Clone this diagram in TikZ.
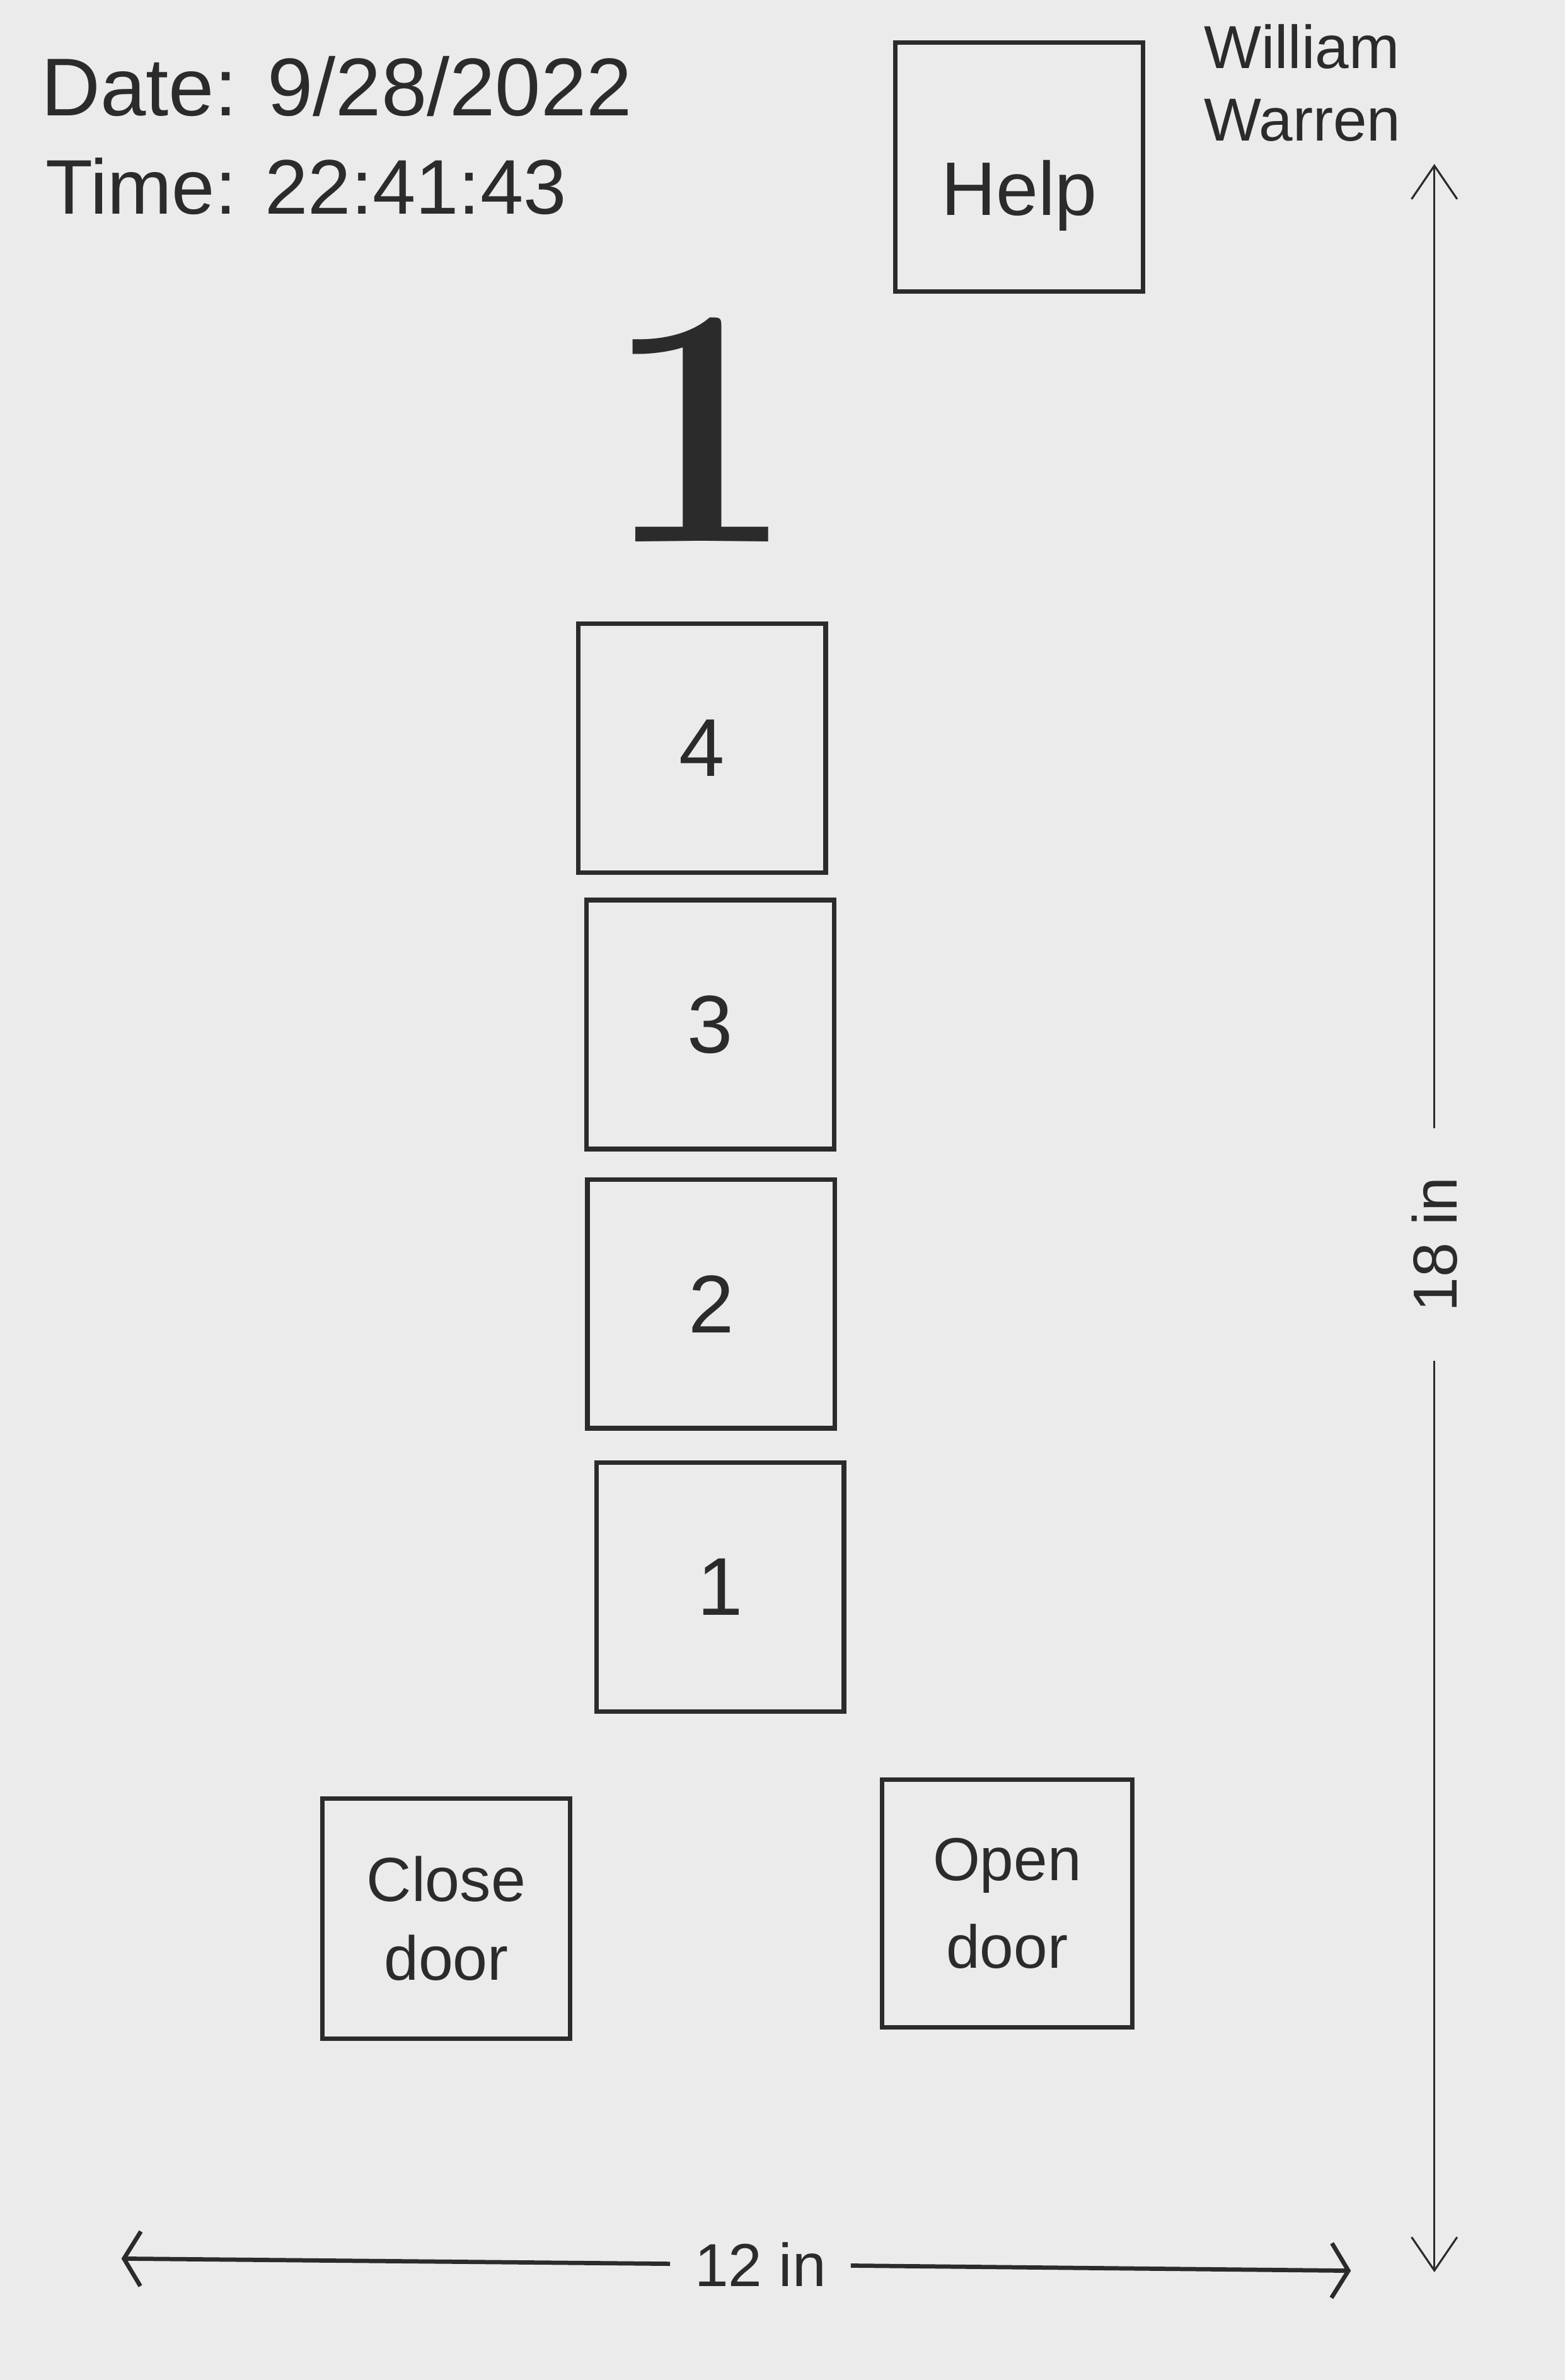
\documentclass[tikz,border=0pt]{standalone}
\usepackage{fontspec}
\newfontfamily\hand{Liberation Sans}
\usepackage{tikz}
\usetikzlibrary{arrows.meta}
\definecolor{paper}{HTML}{EBEBEB}
\definecolor{pen}{HTML}{2B2B2B}

\tikzset{
  btn/.style={draw=pen, line width=3pt, minimum width=163pt, minimum height=164pt,
    inner sep=0pt, text=pen, font=\hand\fontsize{54}{54}\selectfont},
  lbl/.style={text=pen, inner sep=0pt, font=\hand\fontsize{#1}{#1}\selectfont},
  vdim/.style={draw=pen, line width=1.3pt, -{Straight Barb[length=22pt,width=30pt]}},
  hdim/.style={draw=pen, line width=2.8pt, -{Straight Barb[length=11pt,width=36pt]}},
}

\begin{document}
\begin{tikzpicture}[x=1pt,y=-1pt]
  \fill[paper] (0,0) rectangle (1031,1568);
  \useasboundingbox (0,0) rectangle (1031,1568);

  % header
  \node[lbl=54, anchor=base west] (date) at (27,76) {Date: 9/28/2022};
  \node[lbl=51, anchor=base west] (time) at (30,141) {Time: 22:41:43};
  \node[lbl=40, anchor=base west] (first) at (793,45) {William};
  \node[lbl=40, anchor=base west] (last) at (793,93) {Warren};
  \node[btn, minimum height=164pt, font=\hand\fontsize{50}{50}\selectfont,
        text height=74pt, text depth=10pt] (help) at (671.5,110) {Help};

  % floor display
  \node[text=pen, inner sep=0pt, anchor=base, font=\fontsize{225}{225}\selectfont\bfseries]
    (floor) at (461,357) {1};

  % floor buttons
  \foreach \x/\y/\n in {462.5/493/4, 468/675/3, 468.5/859/2, 474.5/1045.5/1}
    \node[btn] (b\n) at (\x,\y) {\n};

  % door buttons
  \node[btn, minimum height=158pt, align=center, font=\hand\fontsize{41}{52}\selectfont]
    (close) at (294,1264) {Close\\door};
  \node[btn, minimum width=165pt, minimum height=163pt, align=center,
        font=\hand\fontsize{40}{58}\selectfont] (open) at (663.5,1254) {Open\\door};

  % dimensions
  \coordinate (htop) at (945,108);
  \coordinate (hbot) at (945,1497);
  \node[lbl=41, rotate=90, inner xsep=32pt, inner ysep=2pt] (hgt) at (945,820) {18 in};
  \draw[vdim] (hgt) -- (htop);
  \draw[vdim] (hgt) -- (hbot);

  \coordinate (wl) at (80,1488);
  \coordinate (wr) at (890,1496);
  \node[lbl=40, inner xsep=16pt, inner ysep=2pt] (wid) at (501,1492) {12 in};
  \draw[hdim] (wid) -- (wl);
  \draw[hdim] (wid) -- (wr);
\end{tikzpicture}
\end{document}
